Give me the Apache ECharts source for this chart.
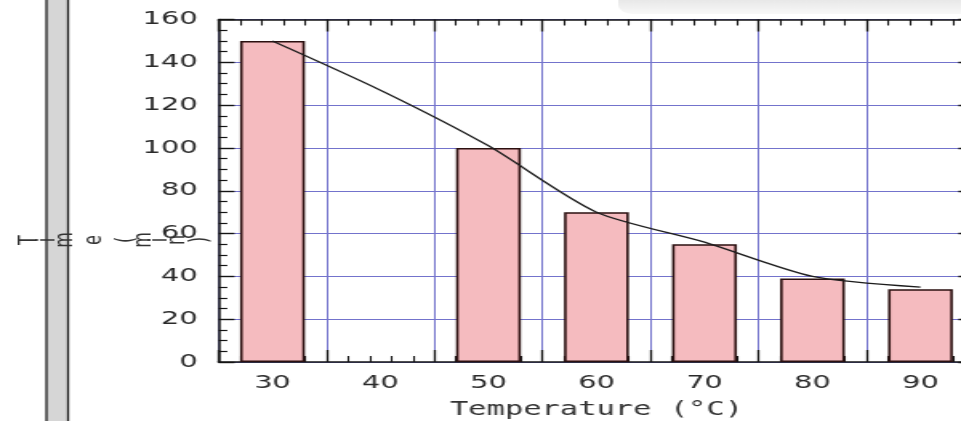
<!DOCTYPE html>
<html><head><meta charset="utf-8">
<script src="https://cdn.jsdelivr.net/npm/echarts@6/dist/echarts.min.js"></script>
<style>
html,body{margin:0;padding:0;background:#fff;overflow:hidden;}
#wrap{width:961px;height:421px;overflow:hidden;position:relative;}
#chart{width:600px;height:421px;transform:scaleX(1.60167);transform-origin:0 0;}
</style></head><body>
<div id="wrap"><div id="chart"></div></div>
<script>
// ---- data ----
const categories = ['30', '40', '50', '60', '70', '80', '90'];
const barValues = [150, null, 100, 70, 55, 39, 34];
const lineValues = [150, 127, 101, 70, 56, 40, 35];
const yMin = 0, yMax = 160, yStep = 20;
const xTitle = 'Temperature (°C)';
const yTitleChars = ['T', 'i', 'm', 'e', '(', 'm', 'i', 'n', ')'];

// ---- styling ----
const gridBlue = '#7373cc';
const ink = '#141414';
const labelFont = 'DejaVu Sans';

const chart = echarts.init(document.getElementById('chart'), null, {renderer: 'canvas'});

const charX = [18.7, 30, 40.6, 59.3, 78.7, 90, 100, 111, 125];
const graphics = [
  {type: 'rect', z: 0, shape: {x: 29, y: -2, width: 13.5, height: 425},
   style: {fill: '#d6d6d6', stroke: '#1e1e1e', lineWidth: 1.3}},
  {type: 'rect', z: 0, shape: {x: 386, y: -12, width: 240, height: 26, r: 9},
   style: {fill: new echarts.graphic.LinearGradient(0, 0, 0, 1, [
     {offset: 0, color: '#dadada'}, {offset: 1, color: '#f8f8f8'}])}}
];
yTitleChars.forEach((c, i) => {
  graphics.push({type: 'text', z: 10, x: charX[i], y: 240, rotation: Math.PI / 2,
    style: {text: c, font: '16px DejaVu Sans', fill: '#333', align: 'center', verticalAlign: 'middle'}});
});

const tickAxis = (pos) => ({
  type: 'value', position: pos, min: 0, max: 35, interval: 5,
  axisLine: {show: false, onZero: false}, axisLabel: {show: false}, splitLine: {show: false},
  axisTick: {show: true, inside: true, length: 12, lineStyle: {color: ink, width: 1.3}},
  minorTick: {show: true, splitNumber: 5, length: 6, lineStyle: {color: ink, width: 1.1}}
});

const yTickAxis = (pos) => ({
  type: 'value', position: pos, min: yMin, max: yMax, interval: yStep,
  axisLine: {show: true, onZero: false, lineStyle: {color: ink, width: 1.5}},
  axisTick: {show: true, inside: true, length: 10, lineStyle: {color: ink, width: 1.4}},
  minorTick: {show: true, splitNumber: 4, length: 5.5, lineStyle: {color: ink, width: 1.2}},
  axisLabel: {show: false}, splitLine: {show: false}, z: 5
});

chart.setOption({
  animation: false,
  backgroundColor: '#fff',
  graphic: graphics,
  grid: {left: 136.4, top: 19.5, width: 472, height: 342.5, outerBoundsMode: 'none', containLabel: false},
  xAxis: [
    {type: 'category', data: categories, position: 'bottom', boundaryGap: true,
     axisLine: {onZero: false, lineStyle: {color: ink, width: 1.5}}, axisTick: {show: false},
     axisLabel: {interval: 0, margin: 12, fontSize: 18, fontFamily: labelFont, color: '#2a2a2a'},
     splitLine: {show: true, interval: 0, lineStyle: {color: gridBlue, width: 1}},
     name: xTitle, nameLocation: 'middle', nameGap: 39,
     nameTextStyle: {fontFamily: 'DejaVu Sans Mono', fontSize: 19, color: '#333'}},
    {type: 'category', data: categories, position: 'top', boundaryGap: true,
     axisLine: {onZero: false, lineStyle: {color: ink, width: 1.5}}, axisTick: {show: false},
     axisLabel: {show: false}, splitLine: {show: false}},
    tickAxis('bottom'),
    tickAxis('top')
  ],
  yAxis: [
    {type: 'value', position: 'left', min: yMin, max: yMax, interval: yStep,
     axisLine: {show: false, onZero: false}, axisTick: {show: false},
     axisLabel: {margin: 13, fontSize: 18, fontFamily: labelFont, color: '#2a2a2a'},
     splitLine: {show: true, lineStyle: {color: gridBlue, width: 1}}},
    yTickAxis('left'),
    yTickAxis('right')
  ],
  series: [
    {type: 'bar', data: barValues, xAxisIndex: 0, yAxisIndex: 0, barWidth: '60%',
     itemStyle: {color: '#f5bbbf', borderColor: '#2b1010', borderWidth: 1.6}, z: 2},
    {type: 'line', data: lineValues, xAxisIndex: 0, yAxisIndex: 0, smooth: 0.25,
     symbol: 'none', lineStyle: {color: '#1c1c1c', width: 1.3}, z: 3}
  ]
});
</script>
</body></html>
